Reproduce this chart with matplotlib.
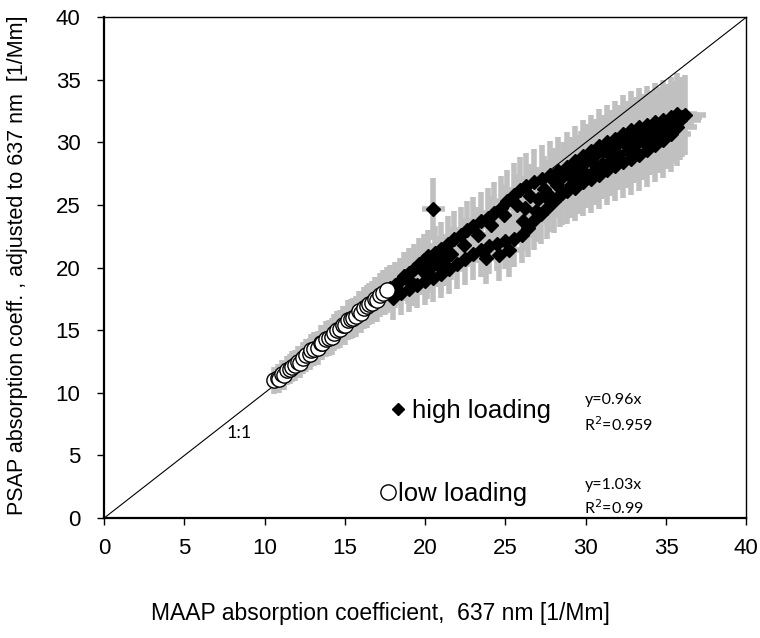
import numpy as np
import matplotlib
matplotlib.use("Agg")
from matplotlib import pyplot as plt
from matplotlib.lines import Line2D

# high loading (black diamonds): MAAP x, PSAP y  [1/Mm]
high_x = [17.5, 17.8, 18.1, 18.4, 18.7, 19.0, 19.3, 19.6, 19.9, 20.2, 20.6, 21.0, 21.4, 21.8,
          22.2, 22.6, 23.0, 23.5, 23.9, 24.3, 24.7, 25.1, 25.5, 25.9, 26.3, 26.8, 27.3, 27.8,
          28.3, 28.8, 29.3, 29.8, 30.3, 30.8, 31.3, 31.8, 32.3, 32.8, 33.3, 33.8, 34.3, 34.8,
          35.3, 35.7, 36.0,
          18.0, 18.5, 19.0, 19.5, 20.0, 20.5, 21.0, 21.5, 22.0, 22.5, 23.0, 23.5, 24.0, 24.5,
          25.0, 25.5, 26.0, 26.4, 26.8, 27.2, 27.6, 28.0, 28.4, 28.8, 29.3, 29.8, 30.3, 30.8,
          31.3, 31.8, 32.3, 32.8, 33.3, 33.8, 34.3, 34.8, 35.3, 35.7,
          20.3, 21.2, 26.2, 27.0, 27.6, 28.2, 29.0, 29.6, 30.5,
          31.5, 32.5, 33.5, 34.5, 35.2, 36.2, 23.8, 24.6, 25.2,
          18.9, 19.8, 20.8, 21.6, 22.4, 23.3, 24.1, 24.9, 25.7, 26.5, 27.4, 28.0, 28.6, 29.1,
          29.7, 30.1, 30.6, 31.1, 31.6, 32.1, 32.6, 33.1, 33.6, 34.1, 34.6, 35.1, 35.5, 35.9,
          19.2, 20.1, 21.0, 26.1, 26.9, 27.7, 28.5, 29.1, 29.6,
          30.0, 30.6, 31.0, 31.6, 32.0, 32.6, 33.0, 33.6, 34.0, 34.6, 35.0, 35.5,
          20.5]
high_y = [18.0, 18.4, 18.6, 18.9, 19.3, 19.6, 19.9, 20.3, 20.6, 20.9, 21.2, 21.5, 21.9, 22.3,
          22.6, 23.0, 23.3, 23.7, 24.0, 24.4, 24.8, 25.3, 25.8, 26.2, 26.5, 26.8, 27.1, 27.4,
          27.7, 28.0, 28.5, 28.9, 29.3, 29.7, 30.0, 30.3, 30.7, 31.0, 31.2, 31.4, 31.6, 31.8,
          32.0, 32.3, 32.0,
          17.6, 18.0, 18.3, 18.6, 18.9, 19.2, 19.5, 19.9, 20.3, 20.7, 21.1, 21.4, 21.7, 21.9,
          22.1, 22.3, 22.6, 23.2, 23.8, 24.3, 24.8, 25.3, 25.8, 26.1, 26.4, 26.8, 27.1, 27.4,
          27.8, 28.1, 28.4, 28.7, 29.0, 29.4, 29.8, 30.2, 30.7, 31.2,
          20.0, 20.6, 24.8, 25.5, 26.0, 26.6, 27.3, 27.8, 28.3,
          29.0, 29.8, 30.2, 30.8, 31.3, 32.2, 20.8, 21.0, 21.4,
          19.0, 19.8, 20.5, 21.1, 21.8, 22.6, 23.4, 24.2, 25.0, 25.7, 26.3, 26.9, 27.3, 27.7,
          28.1, 28.6, 29.0, 29.3, 29.6, 30.0, 30.3, 30.6, 30.8, 31.0, 31.3, 31.5, 31.7, 31.8,
          18.8, 19.4, 20.0, 23.7, 24.5, 25.4, 26.0, 26.6, 27.0,
          27.5, 27.8, 28.3, 28.6, 29.1, 29.3, 29.7, 30.0, 30.4, 30.6, 31.0, 31.5,
          24.7]

# low loading (open circles)
low_x = [10.6, 10.8, 10.9, 11.1, 11.2, 11.4, 11.6, 11.7, 11.9, 12.1, 12.2, 12.4, 12.6, 12.8,
         12.9, 13.1, 13.3, 13.5, 13.6, 13.8, 14.0, 14.2, 14.3, 14.5, 14.7, 14.9, 15.0, 15.2,
         15.4, 15.5, 15.7, 15.9, 16.0, 16.2, 16.4, 16.5, 16.7, 16.9, 17.0, 17.2, 17.4, 17.6]
low_y = [11.0, 11.2, 11.1, 11.5, 11.4, 11.8, 11.9, 12.1, 12.2, 12.5, 12.4, 12.8, 13.0, 13.1,
         13.4, 13.5, 13.6, 14.0, 14.0, 14.3, 14.4, 14.5, 14.8, 15.0, 15.1, 15.4, 15.4, 15.8,
         15.9, 16.0, 16.1, 16.5, 16.4, 16.8, 16.9, 17.1, 17.2, 17.5, 17.4, 17.8, 18.0, 18.2]

# relative instrument uncertainties (grey error bars)
psap_rel_unc = 0.10
maap_rel_unc = 0.035

fits = {"high": ("y=0.96x", "R$^2$=0.959"), "low": ("y=1.03x", "R$^2$=0.99")}

plt.rcParams["font.family"] = ["Liberation Sans", "DejaVu Sans"]

fig = plt.figure(figsize=(7.6, 6.38), dpi=100)
ax = fig.add_axes([0.137, 0.188, 0.845, 0.785])

hx, hy = np.array(high_x), np.array(high_y)
lx, ly = np.array(low_x), np.array(low_y)

grey = "#c0c0c0"
for x, y in ((hx, hy), (lx, ly)):
    ax.errorbar(x, y, yerr=psap_rel_unc * y, xerr=maap_rel_unc * x, fmt="none",
                ecolor=grey, elinewidth=4, capsize=0, zorder=1)

ax.plot([0, 40], [0, 40], color="black", lw=0.8, zorder=2)

ax.plot(hx, hy, "D", color="black", ms=7.5, mec="black", ls="none", zorder=3)
ax.plot(lx, ly, "o", mfc="white", mec="black", ms=11, mew=1.0, ls="none", zorder=4)

ax.set_xlim(0, 40)
ax.set_ylim(0, 40)
ax.set_xticks(range(0, 41, 5))
ax.set_yticks(range(0, 41, 5))
ax.tick_params(direction="out", length=5, width=1, labelsize=16)
ax.tick_params(axis="x", pad=9)
ax.tick_params(axis="y", pad=12)
for s in ["left", "bottom"]:
    ax.spines[s].set_linewidth(1.6)
for s in ["top", "right"]:
    ax.spines[s].set_linewidth(1.0)

ax.set_xlabel("MAAP absorption coefficient,  637 nm [1/Mm]", fontsize=16.5)
ax.xaxis.set_label_coords(0.43, -0.168)
ax.set_ylabel("PSAP absorption coeff. , adjusted to 637 nm  [1/Mm]", fontsize=15.5)
ax.yaxis.set_label_coords(-0.118, 0.505)

# legend entries with their fit results
h_high = Line2D([], [], marker="D", color="black", ls="none", ms=6.5)
h_low = Line2D([], [], marker="o", mfc="white", mec="black", ls="none", ms=11)
leg1 = ax.legend([h_high], ["high loading"], loc="center left", bbox_to_anchor=(0.447, 0.214),
                 frameon=False, fontsize=18.5, handlelength=0.5, handletextpad=0.3,
                 borderpad=0, borderaxespad=0)
ax.add_artist(leg1)
ax.legend([h_low], ["low loading"], loc="center left", bbox_to_anchor=(0.43, 0.048),
          frameon=False, fontsize=18.5, handlelength=0.6, handletextpad=0.1,
          borderpad=0, borderaxespad=0)

cal = ["Lato", "DejaVu Sans"]
ax.text(0.748, 0.235, fits["high"][0], transform=ax.transAxes, fontsize=11.5, family=cal,
        va="center")
ax.text(0.748, 0.187, fits["high"][1], transform=ax.transAxes, fontsize=11.5, family=cal,
        va="center")
ax.text(0.748, 0.066, fits["low"][0], transform=ax.transAxes, fontsize=11.5, family=cal,
        va="center")
ax.text(0.748, 0.020, fits["low"][1], transform=ax.transAxes, fontsize=11.5, family=cal,
        va="center")
ax.text(0.19, 0.17, "1:1", transform=ax.transAxes, fontsize=13, family=cal, va="center")

fig.savefig("out.png", dpi=100)
